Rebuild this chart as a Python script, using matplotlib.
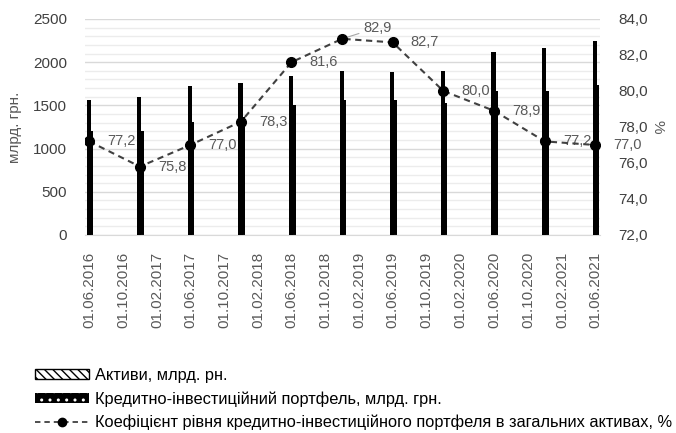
import datetime
import matplotlib
matplotlib.use('Agg')
import matplotlib.pyplot as plt
import matplotlib.dates as mdates
from matplotlib.patches import Patch
from matplotlib.lines import Line2D
from matplotlib.ticker import MultipleLocator

plt.rcParams['font.family'] = ['Liberation Sans', 'DejaVu Sans']

# data
dates = ['01.06.2016', '01.12.2016', '01.06.2017', '01.12.2017', '01.06.2018', '01.12.2018',
         '01.06.2019', '01.12.2019', '01.06.2020', '01.12.2020', '01.06.2021']
assets = [1562, 1600, 1724, 1755, 1840, 1902, 1883, 1902, 2114, 2161, 2249]
portfolio = [1207, 1200, 1311, 1360, 1505, 1562, 1562, 1524, 1670, 1670, 1736]
ratio = [77.2, 75.8, 77.0, 78.3, 81.6, 82.9, 82.7, 80.0, 78.9, 77.2, 77.0]
tick_dates = ['01.06.2016', '01.10.2016', '01.02.2017', '01.06.2017', '01.10.2017', '01.02.2018',
              '01.06.2018', '01.10.2018', '01.02.2019', '01.06.2019', '01.10.2019', '01.02.2020',
              '01.06.2020', '01.10.2020', '01.02.2021', '01.06.2021']

lbl_assets = 'Активи, млрд. рн.'
lbl_portfolio = 'Кредитно-інвестиційний портфель, млрд. грн.'
lbl_ratio = 'Коефіцієнт рівня кредитно-інвестиційного портфеля в загальних активах, %'

to_dt = lambda s: datetime.datetime.strptime(s, '%d.%m.%Y')
x = [mdates.date2num(to_dt(d)) for d in dates]
xt = [mdates.date2num(to_dt(d)) for d in tick_dates]

gray = '#595959'

fig = plt.figure(figsize=(6.76, 4.33), dpi=100)
ax = fig.add_axes([85 / 676, 1 - 235 / 433, 515 / 676, 216 / 433])
ax2 = ax.twinx()

# bars: portfolio slightly to the right, assets in front
ax.bar([v + 6 for v in x], portfolio, width=17, color='black', linewidth=0, zorder=2)
abars = ax.bar([v - 2 for v in x], assets, width=15, color='black', linewidth=0, zorder=3)
abars[5].set_edgecolor('white')
abars[5].set_hatch('||')
abars[5].set_linewidth(0)

ax.set_ylim(0, 2500)
ax.yaxis.set_major_locator(MultipleLocator(500))
ax.yaxis.set_minor_locator(MultipleLocator(100))
ax.grid(which='major', axis='y', color='#d9d9d9', linewidth=1, zorder=0)
ax.grid(which='minor', axis='y', color='#ececec', linewidth=1, zorder=0)
ax.set_axisbelow(True)
ax.set_xlim(xt[0] - 15, xt[-1] + 17)
ax.set_xticks(xt)
ax.set_xticklabels(tick_dates, rotation=90, fontsize=11, color=gray)
ax.tick_params(axis='x', length=0, pad=12)
ax.tick_params(axis='y', which='both', length=0, pad=13, labelsize=11, labelcolor='#404040')
ax.set_ylabel('млрд. грн.', fontsize=11, color=gray, labelpad=8)
for s in ['top', 'left', 'right']:
    ax.spines[s].set_visible(False)
ax.spines['bottom'].set_color('#d9d9d9')

# ratio line on the secondary axis
ax2.plot(x, ratio, linestyle=(0, (3, 2.2)), color='#404040', linewidth=1.5,
         marker='o', markersize=7, markerfacecolor='black', markeredgecolor='black', zorder=4)
ax2.set_ylim(72, 84)
ax2.yaxis.set_major_locator(MultipleLocator(2))
ax2.yaxis.set_major_formatter(lambda v, p: f'{v:.1f}'.replace('.', ','))
ax2.tick_params(axis='y', length=0, pad=13, labelsize=11, labelcolor='#404040')
ax2.set_ylabel('%', fontsize=11, color=gray, rotation=270, labelpad=12)
for s in ['top', 'left', 'right', 'bottom']:
    ax2.spines[s].set_visible(False)

# data labels
for i, (xi, v) in enumerate(zip(x, ratio)):
    txt = f'{v:.1f}'.replace('.', ',')
    if i == 5:
        ax2.annotate(txt, (xi, v), xytext=(15, 8), textcoords='offset points', fontsize=10.5,
                     color=gray, va='center', ha='left',
                     arrowprops=dict(arrowstyle='-', color='#a6a6a6', lw=0.8, shrinkA=1, shrinkB=4))
    else:
        ax2.annotate(txt, (xi, v), xytext=(13, 0), textcoords='offset points', fontsize=10.5,
                     color=gray, va='center', ha='left')

# legend
handles = [Patch(facecolor='white', edgecolor='black', hatch='\\\\\\\\', linewidth=1),
           Patch(facecolor='black', edgecolor='white', hatch='..', linewidth=0),
           Line2D([], [], linestyle=(0, (3, 2.2)), color='#404040', linewidth=1.3,
                  marker='o', markersize=6, markerfacecolor='black', markeredgecolor='black')]
fig.legend(handles, [lbl_assets, lbl_portfolio, lbl_ratio], loc='upper left',
           bbox_to_anchor=(35 / 676, 1 - 368 / 433), frameon=False, fontsize=11.8,
           handlelength=3.3, handleheight=0.55, handletextpad=0.35, labelspacing=0.5,
           borderpad=0, borderaxespad=0, labelcolor='black')

fig.savefig('out.png', dpi=100)
